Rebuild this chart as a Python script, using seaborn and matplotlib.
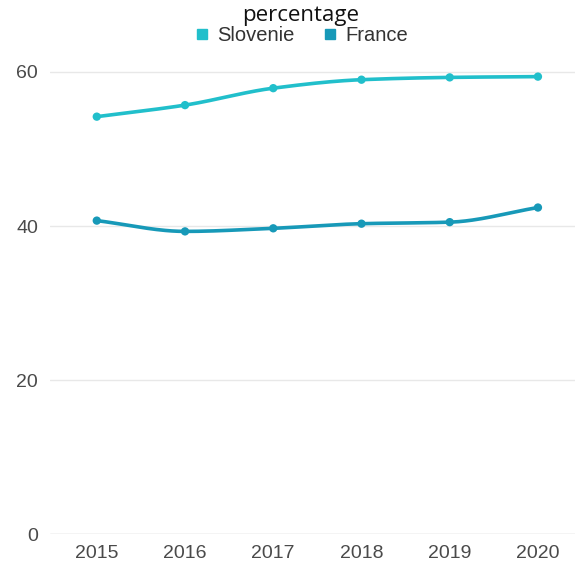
import numpy as np
import pandas as pd
import matplotlib
matplotlib.use("Agg")
import matplotlib.pyplot as plt
from matplotlib.lines import Line2D
import seaborn as sns

years = [2015, 2016, 2017, 2018, 2019, 2020]
slovenie = [54.2, 55.7, 57.9, 59.0, 59.3, 59.4]
france = [40.7, 39.3, 39.7, 40.3, 40.5, 42.4]
series_names = ["Slovenie", "France"]
colors = {"Slovenie": "#21BFCB", "France": "#1799B8"}
yticks = [0, 20, 40, 60]


def monotone_curve(x, y, n=40):
    """Fritsch-Carlson monotone cubic through the points, for a smooth line."""
    x = np.asarray(x, float)
    y = np.asarray(y, float)
    h = np.diff(x)
    d = np.diff(y) / h
    m = np.zeros_like(y)
    m[0], m[-1] = d[0], d[-1]
    for i in range(1, len(y) - 1):
        if d[i - 1] * d[i] <= 0:
            m[i] = 0.0
        else:
            w1 = 2 * h[i] + h[i - 1]
            w2 = h[i] + 2 * h[i - 1]
            m[i] = (w1 + w2) / (w1 / d[i - 1] + w2 / d[i])
    xs, ys = [], []
    for i in range(len(x) - 1):
        t = np.linspace(0, 1, n, endpoint=(i == len(x) - 2))
        h00 = 2 * t**3 - 3 * t**2 + 1
        h10 = t**3 - 2 * t**2 + t
        h01 = -2 * t**3 + 3 * t**2
        h11 = t**3 - t**2
        xs.append(x[i] + t * h[i])
        ys.append(h00 * y[i] + h10 * h[i] * m[i] + h01 * y[i + 1] + h11 * h[i] * m[i + 1])
    return np.concatenate(xs), np.concatenate(ys)


points = pd.DataFrame({
    "year": years * 2,
    "value": slovenie + france,
    "country": ["Slovenie"] * len(years) + ["France"] * len(years),
})

curves = []
for name, vals in zip(series_names, [slovenie, france]):
    cx, cy = monotone_curve(years, vals)
    curves.append(pd.DataFrame({"year": cx, "value": cy, "country": name}))
curves = pd.concat(curves, ignore_index=True)

sns.set_theme(style="white")
plt.rcParams["font.family"] = ["Liberation Sans", "DejaVu Sans"]

fig = plt.figure(figsize=(5.75, 5.63), dpi=100)
ax = fig.add_axes([0.087, 0.0515, 0.913, 0.889])

for y in yticks:
    ax.axhline(y, color="#c8c8c8" if y == 0 else "#e8e8e8", lw=1.0, zorder=0)

sns.lineplot(data=curves, x="year", y="value", hue="country", palette=colors,
             hue_order=series_names, lw=2.6, legend=False, ax=ax, sort=False,
             estimator=None)
sns.scatterplot(data=points, x="year", y="value", hue="country", palette=colors,
                hue_order=series_names, s=36, edgecolor="none", legend=False,
                ax=ax, zorder=3)

ax.set_xlim(2014.47, 2020.42)
ax.set_ylim(0, 65)
ax.set_xticks(years)
ax.set_xticklabels([str(y) for y in years])
ax.set_yticks(yticks)
ax.set_yticklabels([str(y) for y in yticks])
ax.tick_params(axis="both", length=0, labelsize=14, labelcolor="#4a4a4a")
ax.tick_params(axis="x", pad=8)
ax.tick_params(axis="y", pad=8.5)
ax.set_xlabel("")
ax.set_ylabel("")
for s in ax.spines.values():
    s.set_visible(False)

handles = [Line2D([], [], marker="s", linestyle="none", markersize=7.5,
                  color=colors[n], label=n) for n in series_names]
leg = fig.legend(handles=handles, loc="upper center", bbox_to_anchor=(0.522, 1.016),
                 ncol=2, frameon=False, fontsize=14.5, title="percentage",
                 title_fontproperties={"family": "Open Sans", "size": 16, "weight": "normal"},
                 handletextpad=0.25, columnspacing=1.25, borderpad=0.2, labelspacing=0.1,
                 handlelength=1.0)
for t in leg.get_texts():
    t.set_color("#333333")
leg.get_title().set_color("#111111")
leg._legend_box.sep = 0

fig.savefig("out.png", dpi=100)
